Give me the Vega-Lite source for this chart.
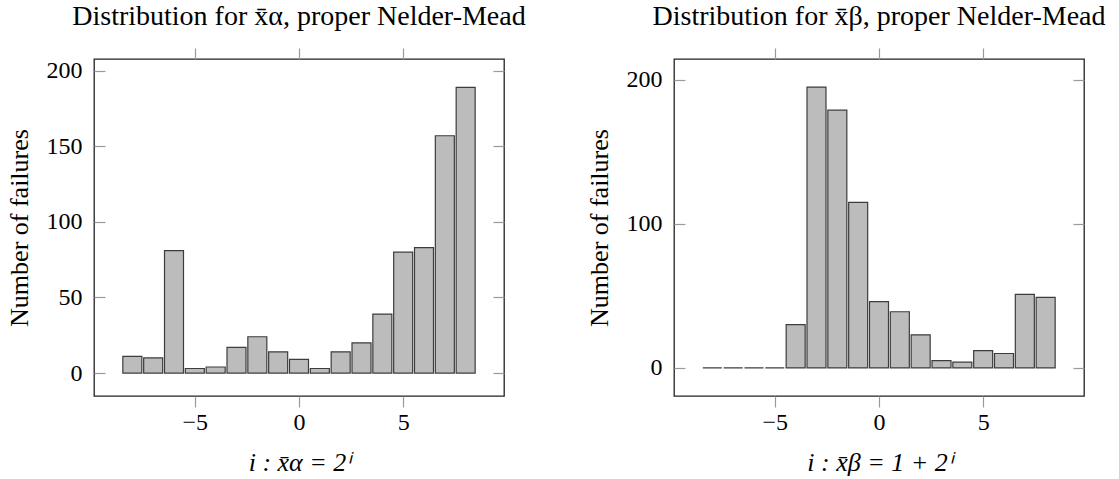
{
  "$schema": "https://vega.github.io/schema/vega-lite/v6.json",
  "background": "white",
  "autosize": {"type": "pad"},
  "padding": {"left": 5, "top": 2, "right": 5, "bottom": 2},
  "bounds": "flush",
  "spacing": 170,
  "config": {
    "font": "Liberation Serif",
    "view": {"stroke": "#222222", "strokeWidth": 1.3},
    "axis": {
      "labelFont": "Liberation Serif",
      "titleFont": "Liberation Serif",
      "labelFontSize": 24,
      "titleFontSize": 26,
      "labelColor": "#000000",
      "titleColor": "#000000",
      "titleFontWeight": "normal",
      "domain": false,
      "grid": false,
      "tickColor": "#9a9a9a",
      "tickWidth": 1.2,
      "tickSize": 11
    },
    "title": {"font": "Liberation Serif", "fontSize": 28, "fontWeight": "normal", "color": "#000000", "anchor": "middle"}
  },
  "hconcat": [
    {
      "width": 410,
      "height": 337,
      "title": {"text": "Distribution for x̄α, proper Nelder-Mead", "offset": 16},
      "data": {"values": [
        {"i": -8, "n": 11}, {"i": -7, "n": 10}, {"i": -6, "n": 81}, {"i": -5, "n": 3},
        {"i": -4, "n": 4}, {"i": -3, "n": 17}, {"i": -2, "n": 24}, {"i": -1, "n": 14},
        {"i": 0, "n": 9}, {"i": 1, "n": 3}, {"i": 2, "n": 14}, {"i": 3, "n": 20},
        {"i": 4, "n": 39}, {"i": 5, "n": 80}, {"i": 6, "n": 83}, {"i": 7, "n": 157},
        {"i": 8, "n": 189}
      ]},
      "layer": [
        {
          "mark": {"type": "bar", "width": 19, "fill": "#bcbcbc", "stroke": "#3c3c3c", "strokeWidth": 1.2},
          "encoding": {
            "x": {"field": "i", "type": "quantitative",
              "scale": {"domain": [-9.6, 9.6], "nice": false, "zero": false},
              "axis": {"orient": "bottom", "values": [-5, 0, 5], "title": "i : x̄α = 2ⁱ", "titleFontStyle": "italic", "labelPadding": 3, "titlePadding": 15}},
            "y": {"field": "n", "type": "quantitative",
              "scale": {"domain": [-15.2, 207.8], "nice": false, "zero": false},
              "axis": {"orient": "left", "values": [0, 50, 100, 150, 200], "title": "Number of failures", "tickSize": -11, "labelPadding": 23, "titlePadding": 14}},
            "y2": {"datum": 0}
          }
        },
        {
          "mark": {"type": "point", "opacity": 0},
          "encoding": {
            "x": {"field": "i", "type": "quantitative",
              "axis": {"orient": "top", "values": [-5, 0, 5], "labels": false, "title": null}},
            "y": {"field": "n", "type": "quantitative",
              "axis": {"orient": "right", "values": [0, 50, 100, 150, 200], "labels": false, "title": null, "tickSize": -11}}
          }
        }
      ],
      "resolve": {"axis": {"x": "independent", "y": "independent"}}
    },
    {
      "width": 410,
      "height": 337,
      "title": {"text": "Distribution for x̄β, proper Nelder-Mead", "offset": 16},
      "data": {"values": [
        {"i": -8, "n": 0}, {"i": -7, "n": 0}, {"i": -6, "n": 0}, {"i": -5, "n": 0},
        {"i": -4, "n": 30}, {"i": -3, "n": 195}, {"i": -2, "n": 179}, {"i": -1, "n": 115},
        {"i": 0, "n": 46}, {"i": 1, "n": 39}, {"i": 2, "n": 23}, {"i": 3, "n": 5},
        {"i": 4, "n": 4}, {"i": 5, "n": 12}, {"i": 6, "n": 10}, {"i": 7, "n": 51},
        {"i": 8, "n": 49}
      ]},
      "layer": [
        {
          "mark": {"type": "bar", "width": 19, "fill": "#bcbcbc", "stroke": "#3c3c3c", "strokeWidth": 1.2},
          "encoding": {
            "x": {"field": "i", "type": "quantitative",
              "scale": {"domain": [-9.6, 9.6], "nice": false, "zero": false},
              "axis": {"orient": "bottom", "values": [-5, 0, 5], "title": "i : x̄β = 1 + 2ⁱ", "titleFontStyle": "italic", "labelPadding": 3, "titlePadding": 15}},
            "y": {"field": "n", "type": "quantitative",
              "scale": {"domain": [-19.5, 214.5], "nice": false, "zero": false},
              "axis": {"orient": "left", "values": [0, 100, 200], "title": "Number of failures", "tickSize": -11, "labelPadding": 23, "titlePadding": 14}},
            "y2": {"datum": 0}
          }
        },
        {
          "mark": {"type": "point", "opacity": 0},
          "encoding": {
            "x": {"field": "i", "type": "quantitative",
              "axis": {"orient": "top", "values": [-5, 0, 5], "labels": false, "title": null}},
            "y": {"field": "n", "type": "quantitative",
              "axis": {"orient": "right", "values": [0, 100, 200], "labels": false, "title": null, "tickSize": -11}}
          }
        }
      ],
      "resolve": {"axis": {"x": "independent", "y": "independent"}}
    }
  ]
}
